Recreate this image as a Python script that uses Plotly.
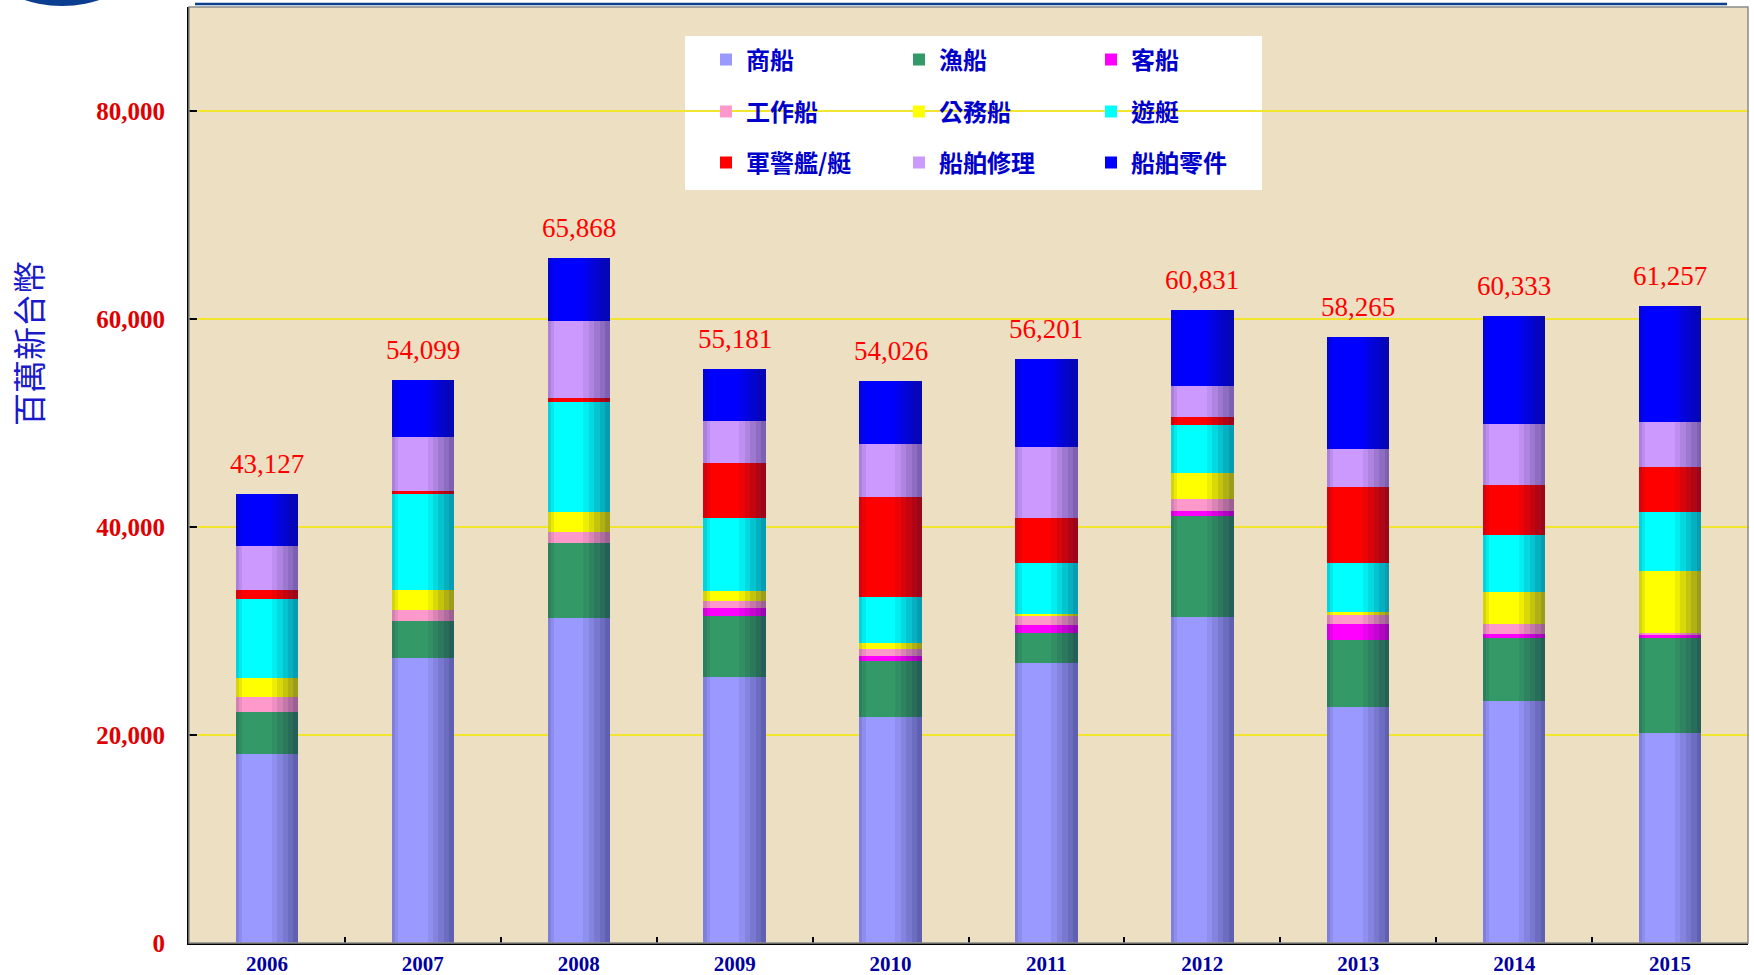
import plotly.graph_objects as go

years = ["2006", "2007", "2008", "2009", "2010", "2011", "2012", "2013", "2014", "2015"]

series_names = ["商船", "漁船", "客船", "工作船", "公務船", "遊艇", "軍警艦/艇", "船舶修理", "船舶零件"]

merchant = [18214, 27371, 31239, 25614, 21733, 26946, 31334, 22668, 23223, 20149]
fishing = [4033, 3571, 7267, 5840, 5409, 2823, 9691, 6446, 6062, 9136]
passenger = [0, 0, 0, 745, 471, 784, 555, 1580, 427, 342]
work = [1421, 1124, 1029, 706, 666, 901, 1067, 853, 982, 213]
official = [1819, 1851, 1885, 980, 588, 157, 2561, 299, 3073, 5976]
yacht = [7604, 9257, 10627, 6977, 4430, 4939, 4611, 4696, 5507, 5635]
military = [826, 297, 343, 5253, 9604, 4312, 725, 7343, 4782, 4312]
repair = [4298, 5224, 7439, 4038, 5057, 6821, 2988, 3628, 5806, 4355]
parts = [4912, 5404, 6039, 5028, 6068, 8518, 7299, 10752, 10471, 11139]

totals = [43127, 54099, 65868, 55181, 54026, 56201, 60831, 58265, 60333, 61257]

series_values = [merchant, fishing, passenger, work, official, yacht, military, repair, parts]
colors = ["#9999FF", "#339966", "#FF00FF", "#FF99CC", "#FFFF00", "#00FFFF", "#FF0000", "#CC99FF", "#0000FF"]

y_ticks = [0, 20000, 40000, 60000, 80000]

# layout geometry (pixels)
W, H = 1754, 975
ML, MR, MT, MB = 189, 6, 7, 32
PW = W - ML - MR
PH = H - MT - MB
BAR_W = 0.4


def px_x(px):
    return (px - ML) / PW


def px_y(py):
    return (H - MB - py) / PH


fig = go.Figure()

legend_names = ["legend"] + [f"legend{i}" for i in range(2, 10)]

for i, (name, vals, col) in enumerate(zip(series_names, series_values, colors)):
    fig.add_trace(go.Bar(
        x=years, y=vals, name=name,
        marker=dict(color=col, line=dict(width=0)),
        width=BAR_W,
        legend=legend_names[i],
    ))

# cylinder-like shading: overlapping translucent strips (base set -> overlay, not stacked)
half = BAR_W / 2
shade_strips = [
    (-half, 0.040, 0.09),
    (-half, 0.020, 0.10),
    (0.030, half - 0.030, 0.08),
    (0.065, half - 0.065, 0.09),
    (0.100, half - 0.100, 0.10),
    (0.135, half - 0.135, 0.11),
    (0.170, half - 0.170, 0.12),
]
zero_base = [0] * len(years)
for off, w, a in shade_strips:
    fig.add_trace(go.Bar(
        x=years, y=totals, base=zero_base, offset=off, width=w,
        marker=dict(color=f"rgba(20,20,70,{a})", line=dict(width=0)),
        showlegend=False, hoverinfo="skip",
    ))

# total labels (category index positions)
for idx, tot in enumerate(totals):
    fig.add_annotation(
        x=idx, y=tot, text=f"{tot:,}", showarrow=False,
        xanchor="center", yanchor="bottom", yshift=13,
        font=dict(family="Liberation Serif", size=27, color="#FF0000"),
    )

# legends placed as a 3x3 grid
col_px = [726, 919, 1111]
row_py = [60, 112, 163]
legend_layouts = {}
for i, ln in enumerate(legend_names):
    r, c = divmod(i, 3)
    legend_layouts[ln] = dict(
        x=px_x(col_px[c] - 20), y=px_y(row_py[r]),
        xanchor="left", yanchor="middle",
        xref="paper", yref="paper",
        bgcolor="rgba(0,0,0,0)", borderwidth=0,
        itemwidth=30,
        font=dict(family="Noto Sans CJK TC", size=24, color="#0000CC", weight="bold"),
    )

fig.update_layout(**legend_layouts)

shapes = [
    # legend white box
    dict(type="rect", xref="paper", yref="paper",
         x0=px_x(685), x1=px_x(1262), y0=px_y(190), y1=px_y(36),
         fillcolor="white", line=dict(width=0), layer="below"),
    # plot frame
    dict(type="rect", xref="paper", yref="paper", x0=0, x1=1, y0=0, y1=1,
         line=dict(color="#8A8A8A", width=1.5), layer="above"),
    # header line
    dict(type="line", xref="paper", yref="paper",
         x0=px_x(195), x1=px_x(1727), y0=px_y(4), y1=px_y(4),
         line=dict(color="#0B3F8A", width=2.5)),
    # logo circle
    dict(type="circle", xref="paper", yref="paper",
         x0=px_x(-58), x1=px_x(182), y0=px_y(6), y1=px_y(-234),
         fillcolor="#0B3D91", line=dict(width=0)),
]

fig.update_layout(
    width=W, height=H,
    margin=dict(l=ML, r=MR, t=MT, b=MB, autoexpand=False),
    barmode="stack",
    paper_bgcolor="white",
    plot_bgcolor="#EDE0C2",
    shapes=shapes,
    xaxis=dict(
        type="category",
        range=[-0.5, len(years) - 0.5],
        showline=True, linecolor="black", linewidth=2,
        ticks="inside", tickson="boundaries", ticklen=6, tickcolor="black", tickwidth=1.5,
        tickfont=dict(family="Liberation Serif", size=21, color="#0000A0", weight="bold"),
        showgrid=False, zeroline=False,
        ticklabelstandoff=1,
    ),
    yaxis=dict(
        range=[0, 90000],
        tickvals=y_ticks,
        ticktext=[f"{v:,}" for v in y_ticks],
        showline=True, linecolor="black", linewidth=2,
        ticks="inside", ticklen=8, tickcolor="black", tickwidth=1.5,
        tickfont=dict(family="Liberation Serif", size=25, color="#E00000", weight="bold"),
        showgrid=True, gridcolor="#F2E530", gridwidth=2,
        zeroline=False,
        ticklabelstandoff=17,
    ),
    showlegend=True,
)

fig.add_annotation(
    xref="paper", yref="paper",
    x=px_x(28), y=px_y(344),
    text="百萬新台幣", textangle=-90, showarrow=False,
    xanchor="center", yanchor="middle",
    font=dict(family="Noto Sans CJK TC", size=33, color="#1A1ACC"),
)

fig.write_html(
    "out.html",
    config={"displayModeBar": False},
    post_script="document.body.style.margin='0';document.body.style.padding='0';",
)
